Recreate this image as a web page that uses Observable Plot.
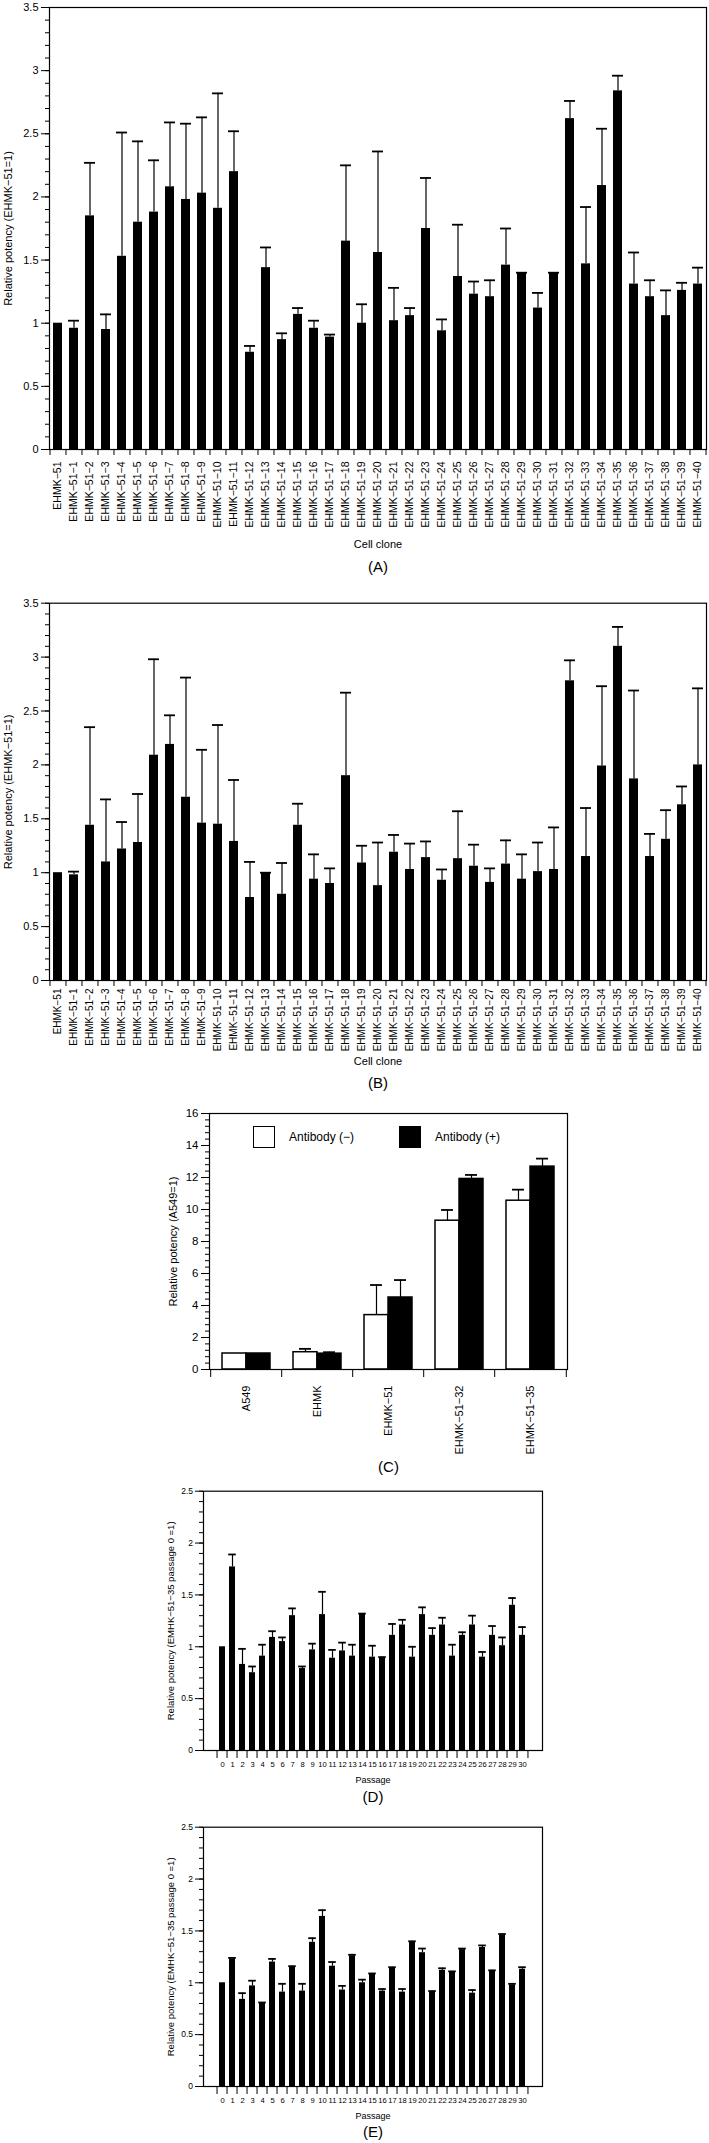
<!DOCTYPE html>
<html>
<head>
<meta charset="utf-8">
<script src="https://cdn.jsdelivr.net/npm/d3@7"></script>
<script src="https://cdn.jsdelivr.net/npm/@observablehq/plot@0.6"></script>
<style>
  body { margin: 0; background: #fff; }
  #root { position: relative; width: 709px; height: 2143px; font-family: "Liberation Sans", Arial, sans-serif; color: #000; }
  .panel { position: absolute; left: 0; }
  .sw { position: absolute; width: 22px; height: 22px; box-sizing: border-box; border: 1.5px solid #000; }
  .lg { position: absolute; font-size: 12px; line-height: 14px; transform: translateY(-50%); white-space: nowrap; }
</style>
</head>
<body>
<div id="root"></div>
<script>
// ---------- data ----------
const clones = ["EHMK−51","EHMK−51−1","EHMK−51−2","EHMK−51−3","EHMK−51−4","EHMK−51−5","EHMK−51−6","EHMK−51−7","EHMK−51−8","EHMK−51−9","EHMK−51−10","EHMK−51−11","EHMK−51−12","EHMK−51−13","EHMK−51−14","EHMK−51−15","EHMK−51−16","EHMK−51−17","EHMK−51−18","EHMK−51−19","EHMK−51−20","EHMK−51−21","EHMK−51−22","EHMK−51−23","EHMK−51−24","EHMK−51−25","EHMK−51−26","EHMK−51−27","EHMK−51−28","EHMK−51−29","EHMK−51−30","EHMK−51−31","EHMK−51−32","EHMK−51−33","EHMK−51−34","EHMK−51−35","EHMK−51−36","EHMK−51−37","EHMK−51−38","EHMK−51−39","EHMK−51−40"];

const aMean = [1.00,0.96,1.85,0.95,1.53,1.80,1.88,2.08,1.98,2.03,1.91,2.20,0.77,1.44,0.87,1.07,0.96,0.89,1.65,1.00,1.56,1.02,1.06,1.75,0.94,1.37,1.23,1.21,1.46,1.40,1.12,1.40,2.62,1.47,2.09,2.84,1.31,1.21,1.06,1.26,1.31];
const aSD   = [null,0.06,0.42,0.12,0.98,0.64,0.41,0.51,0.60,0.60,0.91,0.32,0.05,0.16,0.05,0.05,0.06,0.02,0.60,0.15,0.80,0.26,0.06,0.40,0.09,0.41,0.10,0.13,0.29,0.00,0.12,0.00,0.14,0.45,0.45,0.12,0.25,0.13,0.20,0.06,0.13];

const bMean = [1.00,0.98,1.44,1.10,1.22,1.28,2.09,2.19,1.70,1.46,1.45,1.29,0.77,1.00,0.80,1.44,0.94,0.90,1.90,1.09,0.88,1.19,1.03,1.14,0.93,1.13,1.06,0.91,1.08,0.94,1.01,1.03,2.78,1.15,1.99,3.10,1.87,1.15,1.31,1.63,2.00];
const bSD   = [null,0.03,0.91,0.58,0.25,0.45,0.89,0.27,1.11,0.68,0.92,0.57,0.33,0.00,0.29,0.20,0.23,0.14,0.77,0.16,0.40,0.16,0.24,0.15,0.10,0.44,0.20,0.13,0.22,0.23,0.27,0.39,0.19,0.45,0.74,0.18,0.82,0.21,0.27,0.17,0.71];

const cGroups = ["A549","EHMK","EHMK−51","EHMK−51−32","EHMK−51−35"];
const cMinusMean = [1.00,1.08,3.40,9.30,10.55];
const cMinusSD   = [null,0.21,1.88,0.67,0.69];
const cPlusMean  = [1.00,0.99,4.50,11.91,12.68];
const cPlusSD    = [null,0.09,1.09,0.25,0.50];
const cLegend = ["Antibody (−)","Antibody (+)"];

const passages = d3.range(0, 31).map(String);
const dMean = [1.00,1.77,0.83,0.75,0.91,1.09,1.05,1.30,0.79,0.97,1.31,0.89,0.96,0.91,1.32,0.90,0.90,1.11,1.21,0.90,1.31,1.11,1.21,0.91,1.11,1.21,0.90,1.11,1.01,1.40,1.11];
const dSD   = [null,0.12,0.15,0.06,0.11,0.06,0.04,0.07,0.02,0.06,0.22,0.08,0.08,0.11,0.00,0.11,0.00,0.11,0.05,0.10,0.07,0.07,0.07,0.11,0.03,0.09,0.05,0.09,0.08,0.07,0.08];

const eMean = [1.00,1.23,0.84,0.97,0.80,1.20,0.91,1.15,0.92,1.39,1.64,1.16,0.93,1.26,1.00,1.08,0.92,1.14,0.91,1.39,1.29,0.91,1.12,1.10,1.32,0.90,1.34,1.11,1.46,0.98,1.13];
const eSD   = [null,0.01,0.06,0.05,0.01,0.03,0.08,0.01,0.07,0.04,0.06,0.04,0.04,0.01,0.03,0.01,0.02,0.01,0.03,0.01,0.04,0.01,0.02,0.01,0.01,0.03,0.02,0.01,0.01,0.01,0.02];

const labelClone = "Relative potency (EHMK−51=1)";
const labelC = "Relative potency (A549=1)";
const labelPassage = "Relative potency (EMHK−51−35 passage 0 =1)";

// ---------- helpers ----------
const root = document.getElementById("root");
const FONT = "'Liberation Sans', Arial, sans-serif";
const fmt = d => String(+(+d).toFixed(2));

function place(svg, top) {
  const wrap = document.createElement("div");
  wrap.className = "panel";
  wrap.style.top = top + "px";
  wrap.appendChild(svg);
  root.appendChild(wrap);
}

function yAxes(yMax, major, minor, fontSize, tickSize, tickPadding) {
  const n = Math.round(yMax / minor);
  const minors = d3.range(0, n + 1).map(i => +(i * minor).toFixed(3));
  const majors = d3.range(0, Math.round(yMax / major) + 1).map(i => +(i * major).toFixed(3));
  return [
    Plot.axisY({ticks: minors, tickSize: Math.round(tickSize / 2), tickFormat: () => "", label: null}),
    Plot.axisY({ticks: majors, tickSize, tickPadding, tickFormat: fmt, fontSize, label: null})
  ];
}

function yTitle(label, dx, fontSize) {
  return Plot.text([label], {text: d => d, frameAnchor: "left", rotate: -90, dx, fontSize, textAnchor: "middle", lineAnchor: "middle"});
}
function bottomText(label, dy, fontSize) {
  return Plot.text([label], {text: d => d, frameAnchor: "bottom", dy, fontSize, textAnchor: "middle", lineAnchor: "middle"});
}

function singlePanel(cfg) {
  const {cats, mean, sd, top, height, ml, mr, mt, mb, yMax, major, minor, tickFont, xTickFont,
         yTickSize, yTickPad, rotateX, xPad, xTickLen, yLabel, yLabelDx, yLabelFont,
         xLabel, xLabelDy, xLabelFont, panel, panelDy, capInset, pad} = cfg;
  const data = cats.map((c, i) => ({c, v: mean[i], s: sd[i]}));
  const err = data.filter(d => d.s != null);
  const width = 709;
  const step = (width - ml - mr) / cats.length;
  const marks = [
    Plot.barY(data, {x: "c", y: "v", fill: "#000"}),
    Plot.ruleX(err, {x: "c", y1: "v", y2: d => d.v + d.s, stroke: "#000", strokeWidth: 1.2}),
    Plot.tickY(err, {x: "c", y: d => d.v + d.s, stroke: "#000", strokeWidth: 1.8, insetLeft: capInset, insetRight: capInset}),
    ...yAxes(yMax, major, minor, tickFont, yTickSize, yTickPad),
    Plot.axisX({tickSize: 0, tickPadding: xPad, tickRotate: rotateX ? -90 : 0, fontSize: xTickFont, label: null}),
    Plot.axisX({tickSize: xTickLen, tickFormat: () => "", dx: -step / 2, label: null}),
    Plot.axisX({ticks: [cats[cats.length - 1]], tickSize: xTickLen, tickFormat: () => "", dx: step / 2, label: null}),
    Plot.frame({stroke: "#000", strokeWidth: 1.2}),
    yTitle(yLabel, yLabelDx, yLabelFont),
    bottomText(xLabel, xLabelDy, xLabelFont),
    bottomText(panel, panelDy, 15)
  ];
  const svg = Plot.plot({
    width, height,
    marginLeft: ml, marginRight: mr, marginTop: mt, marginBottom: mb,
    style: {fontFamily: FONT, background: "transparent", color: "#000"},
    x: {type: "band", domain: cats, paddingInner: pad, paddingOuter: pad / 2},
    y: {domain: [0, yMax]},
    marks
  });
  place(svg, top);
}

// ---------- Panel A ----------
singlePanel({
  cats: clones, mean: aMean, sd: aSD, top: 0, height: 580,
  ml: 49, mr: 3, mt: 7, mb: 131, yMax: 3.5, major: 0.5, minor: 0.1, tickFont: 11, xTickFont: 10.5,
  yTickSize: 8, yTickPad: 3, rotateX: true, xPad: 12, xTickLen: 6, pad: 0.42,
  yLabel: labelClone, yLabelDx: -41, yLabelFont: 11,
  xLabel: "Cell clone", xLabelDy: 95, xLabelFont: 11, panel: "(A)", panelDy: 118, capInset: -1
});

// ---------- Panel B ----------
singlePanel({
  cats: clones, mean: bMean, sd: bSD, top: 580, height: 515,
  ml: 49, mr: 3, mt: 22.7, mb: 115, yMax: 3.5, major: 0.5, minor: 0.1, tickFont: 11, xTickFont: 10,
  yTickSize: 8, yTickPad: 3, rotateX: true, xPad: 8, xTickLen: 6, pad: 0.42,
  yLabel: labelClone, yLabelDx: -41, yLabelFont: 11,
  xLabel: "Cell clone", xLabelDy: 81, xLabelFont: 11, panel: "(B)", panelDy: 103, capInset: -1
});

// ---------- Panel C ----------
(function () {
  const width = 709, height = 383, ml = 209, mr = 142, mt = 18, mb = 109;
  const pi = 0.329;
  const step = (width - ml - mr) / cGroups.length;
  const bw = step * (1 - pi);
  const half = bw / 2;
  const rows = cGroups.map((g, i) => ({g, m: cMinusMean[i], ms: cMinusSD[i], p: cPlusMean[i], ps: cPlusSD[i]}));
  const em = rows.filter(d => d.ms != null);
  const ep = rows.filter(d => d.ps != null);
  const svg = Plot.plot({
    width, height, marginLeft: ml, marginRight: mr, marginTop: mt, marginBottom: mb,
    style: {fontFamily: FONT, background: "transparent", color: "#000"},
    x: {type: "band", domain: cGroups, paddingInner: pi, paddingOuter: pi / 2},
    y: {domain: [0, 16]},
    marks: [
      Plot.ruleX(em, {x: "g", y1: "m", y2: d => d.m + d.ms, dx: -half / 2, stroke: "#000", strokeWidth: 1.2}),
      Plot.tickY(em, {x: "g", y: d => d.m + d.ms, insetLeft: half / 2 - 6, insetRight: half + half / 2 - 6, stroke: "#000", strokeWidth: 1.8}),
      Plot.ruleX(ep, {x: "g", y1: "p", y2: d => d.p + d.ps, dx: half / 2, stroke: "#000", strokeWidth: 1.2}),
      Plot.tickY(ep, {x: "g", y: d => d.p + d.ps, insetLeft: half + half / 2 - 6, insetRight: half / 2 - 6, stroke: "#000", strokeWidth: 1.8}),
      Plot.barY(rows, {x: "g", y: "m", insetRight: half, fill: "#fff", stroke: "#000", strokeWidth: 1.5}),
      Plot.barY(rows, {x: "g", y: "p", insetLeft: half, fill: "#000", stroke: "#000", strokeWidth: 1.5}),
      ...yAxes(16, 2, 0.4, 11.5, 8, 3),
      Plot.axisX({tickSize: 0, tickPadding: 16, tickRotate: -90, fontSize: 11, label: null}),
      Plot.axisX({tickSize: 8, tickFormat: () => "", dx: -step / 2, label: null}),
      Plot.axisX({ticks: [cGroups[cGroups.length - 1]], tickSize: 8, tickFormat: () => "", dx: step / 2, label: null}),
      Plot.frame({stroke: "#000", strokeWidth: 1.2}),
      yTitle(labelC, -36, 11),
      bottomText("(C)", 98, 15)
    ]
  });
  place(svg, 1095);
  // legend
  const items = [
    {label: cLegend[0], fill: "#fff", left: 253, tx: 289},
    {label: cLegend[1], fill: "#000", left: 399, tx: 435}
  ];
  for (const it of items) {
    const sw = document.createElement("div");
    sw.className = "sw";
    sw.style.left = it.left + "px";
    sw.style.top = "1126px";
    sw.style.background = it.fill;
    root.appendChild(sw);
    const t = document.createElement("div");
    t.className = "lg";
    t.style.left = it.tx + "px";
    t.style.top = "1137px";
    t.textContent = it.label;
    root.appendChild(t);
  }
})();

// ---------- Panel D ----------
singlePanel({
  cats: passages, mean: dMean, sd: dSD, top: 1478, height: 327,
  ml: 203, mr: 167, mt: 12.7, mb: 55, yMax: 2.5, major: 0.5, minor: 0.1, tickFont: 8.5, xTickFont: 7.6,
  yTickSize: 8, yTickPad: 2.5, rotateX: false, xPad: 11, xTickLen: 8, pad: 0.36,
  yLabel: labelPassage, yLabelDx: -33, yLabelFont: 9.5,
  xLabel: "Passage", xLabelDy: 30, xLabelFont: 9, panel: "(D)", panelDy: 47, capInset: -0.8
});

// ---------- Panel E ----------
singlePanel({
  cats: passages, mean: eMean, sd: eSD, top: 1805, height: 338,
  ml: 203, mr: 167, mt: 21.7, mb: 57, yMax: 2.5, major: 0.5, minor: 0.1, tickFont: 8.5, xTickFont: 7.6,
  yTickSize: 8, yTickPad: 2.5, rotateX: false, xPad: 11, xTickLen: 8, pad: 0.36,
  yLabel: labelPassage, yLabelDx: -33, yLabelFont: 9.5,
  xLabel: "Passage", xLabelDy: 30, xLabelFont: 9, panel: "(E)", panelDy: 46, capInset: -0.8
});
</script>
</body>
</html>
